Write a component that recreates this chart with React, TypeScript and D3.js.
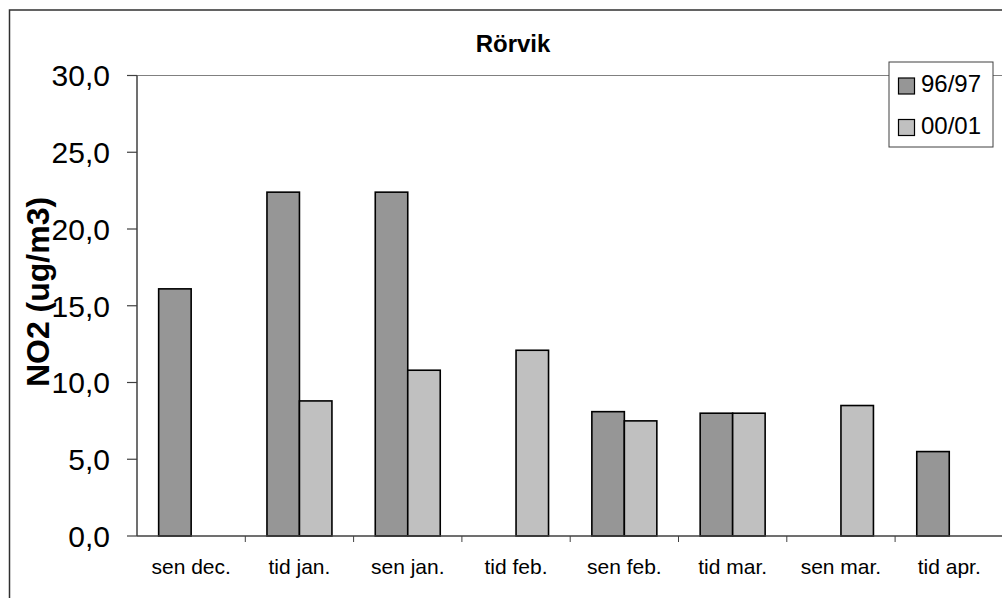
import React from "react";
import * as d3 from "d3";

const categories = ["sen dec.", "tid jan.", "sen jan.", "tid feb.", "sen feb.", "tid mar.", "sen mar.", "tid apr."];
const seriesNames = ["96/97", "00/01"];
const values9697: (number | null)[] = [16.1, 22.4, 22.4, null, 8.1, 8.0, null, 5.5];
const values0001: (number | null)[] = [null, 8.8, 10.8, 12.1, 7.5, 8.0, 8.5, null];
const yTicks = [0, 5, 10, 15, 20, 25, 30];
const colors = ["#969696", "#C0C0C0"];

const W = 1002, H = 598;
const plotLeft = 137, plotRight = 1003.4, plotTop = 75.5, plotBottom = 536;
const FONT = "'Liberation Sans', Arial, sans-serif";

export default function App() {
  const x = d3.scaleBand<string>().domain(categories).range([plotLeft, plotRight]);
  const inner = d3.scaleBand<string>().domain(seriesNames).range([0, x.bandwidth() * 0.6]);
  const offset = x.bandwidth() * 0.2;
  const y = d3.scaleLinear().domain([0, 30]).range([plotBottom, plotTop]);
  const series = [values9697, values0001];
  const fmt = (v: number) => v.toFixed(1).replace(".", ",");

  return (
    <svg width={W} height={H} style={{ position: "absolute", left: 0, top: 0, background: "#fff" }}>
      <rect x={0} y={0} width={W} height={H} fill="#fff" />
      {/* outer frame */}
      <rect x={9.5} y={10} width={W + 10} height={H + 10} fill="none" stroke="#303030" strokeWidth={1.5} />
      {/* title */}
      <text x={513} y={52} textAnchor="middle" fontFamily={FONT} fontWeight="bold" fontSize={24}>Rörvik</text>
      {/* top gridline */}
      <line x1={plotLeft} x2={plotRight} y1={y(30)} y2={y(30)} stroke="#808080" strokeWidth={1.2} />
      {/* bars */}
      {series.map((vals, si) =>
        vals.map((v, ci) =>
          v == null ? null : (
            <rect
              key={`${si}-${ci}`}
              x={(x(categories[ci]) as number) + offset + (inner(seriesNames[si]) as number)}
              y={y(v)}
              width={inner.bandwidth()}
              height={y(0) - y(v)}
              fill={colors[si]}
              stroke="#000"
              strokeWidth={1.6}
            />
          )
        )
      )}
      {/* y axis */}
      <line x1={plotLeft} x2={plotLeft} y1={plotTop} y2={plotBottom} stroke="#404040" strokeWidth={1.5} />
      {yTicks.map((t) => (
        <g key={t}>
          <line x1={plotLeft - 10} x2={plotLeft} y1={y(t)} y2={y(t)} stroke="#404040" strokeWidth={1.2} />
          <text x={110} y={y(t)} dy="0.36em" textAnchor="end" fontFamily={FONT} fontSize={30}>{fmt(t)}</text>
        </g>
      ))}
      {/* x axis */}
      <line x1={plotLeft} x2={plotRight} y1={plotBottom} y2={plotBottom} stroke="#404040" strokeWidth={1.5} />
      {categories.map((c, i) => (
        <g key={c}>
          {i > 0 && (
            <line x1={x(c) as number} x2={x(c) as number} y1={plotBottom} y2={plotBottom + 6} stroke="#404040" strokeWidth={1} />
          )}
          <text x={(x(c) as number) + x.bandwidth() / 2} y={574} textAnchor="middle" fontFamily={FONT} fontSize={21}>{c}</text>
        </g>
      ))}
      {/* y axis title */}
      <text transform={`translate(49,292) rotate(-90)`} textAnchor="middle" fontFamily={FONT} fontWeight="bold" fontSize={32}>NO2 (ug/m3)</text>
      {/* legend */}
      <rect x={889} y={62} width={104} height={85} fill="#fff" stroke="#404040" strokeWidth={1} />
      {seriesNames.map((s, i) => (
        <g key={s}>
          <rect x={898.5} y={78 + i * 41.5} width={16} height={16} fill={colors[i]} stroke="#000" strokeWidth={1.2} />
          <text x={921} y={91.5 + i * 42} fontFamily={FONT} fontSize={24}>{s}</text>
        </g>
      ))}
    </svg>
  );
}
